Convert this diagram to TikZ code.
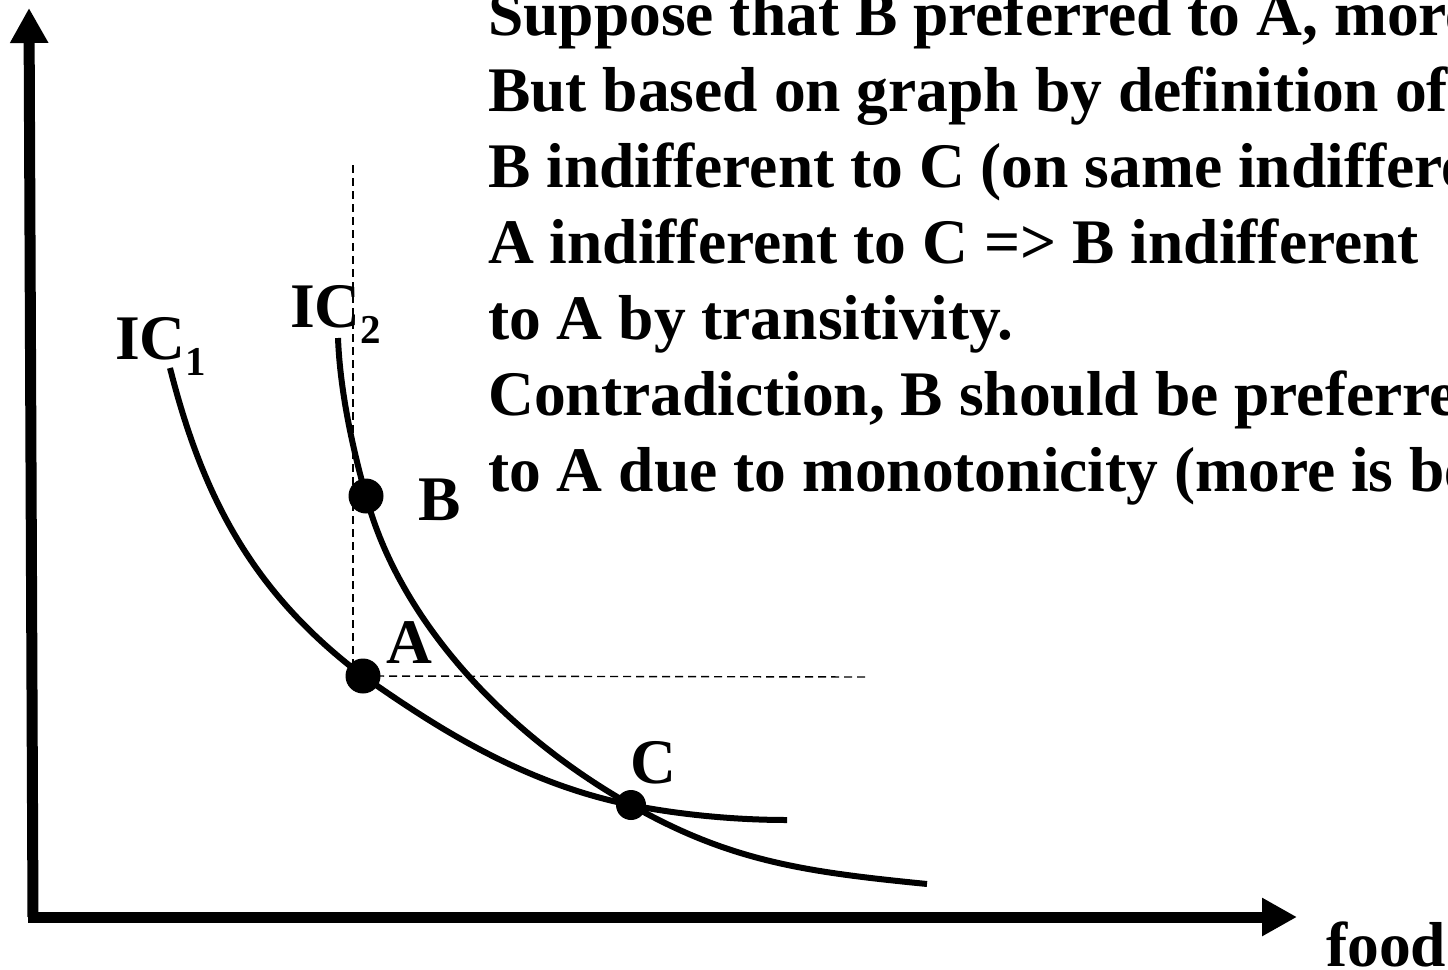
\documentclass[tikz,border=0pt]{standalone}
\usepackage{fontspec}
\setmainfont{Liberation Serif}
\usetikzlibrary{arrows.meta,positioning}

\newcommand{\icsub}[1]{\raisebox{-16pt}{\fontsize{41}{41}\selectfont #1}}

\tikzset{
  axis/.style={line width=11pt, -{Triangle[length=35pt,width=36pt]}},
  icurve/.style={line width=6pt},
  guide/.style={line width=1.4pt, dash pattern=on 8pt off 5pt},
  dot/.style={circle, fill=black, inner sep=0pt, minimum size=#1},
  dot/.default=35pt,
  lbl/.style={anchor=base west, inner sep=0pt, font=\fontsize{63.5}{76}\selectfont\bfseries},
}

\begin{document}
\begin{tikzpicture}[x=1pt, y=-1pt]
  \useasboundingbox (0,0) rectangle (1448,969);
  \clip (0,0) rectangle (1448,969);

  % axes
  \coordinate (O) at (33,917);
  \coordinate (ytip) at (29,8);
  \coordinate (xtip) at (1297,917);
  \draw[axis] (O) -- (ytip);
  \draw[axis] ([xshift=-5pt]O) -- (xtip);
  \node[lbl] (food) at (1326,966) {food};

  % bundles
  \node[dot] (B) at (366,496) {};
  \node[dot] (A) at (363,676) {};
  \node[dot=30pt] (C) at (631,805) {};

  % indifference curves
  \draw[icurve] (170,368) .. controls (203,498) and (253,593) .. (A.center)
    .. controls (433,725) and (521,783) .. (C.center)
    .. controls (681,815) and (737,820) .. (787,820);
  \draw[icurve] (338,338) .. controls (340,390) and (352,446) .. (B.center)
    .. controls (401,626) and (511,737) .. (C.center)
    .. controls (731,862) and (807,872) .. (927,884);
  \node[lbl] (ic1) at (115,359) {IC\icsub{1}};
  \node[lbl] (ic2) at (290,327) {IC\icsub{2}};

  \node[lbl] (Blbl) at (418,520) {B};
  \node[lbl] (Albl) at (386,663) {A};
  \node[lbl] (Clbl) at (630,783) {C};

  % guide lines
  \coordinate (vtop) at (353,165);
  \coordinate (hend) at (865,677);
  \draw[guide] (vtop) -- (vtop |- A);
  \draw[guide] (A.center) -- (hend);

  % argument text
  \foreach \txt [count=\i from 0] in {{Suppose that B preferred to A, more},
      {But based on graph by definition of},
      {B indifferent to C (on same indifference},
      {A indifferent to C => B indifferent},
      {to A by transitivity.},
      {Contradiction, B should be preferred},
      {to A due to monotonicity (more is better}}
    \node[lbl] (line\i) at (488,35+76*\i) {\txt};
\end{tikzpicture}
\end{document}
